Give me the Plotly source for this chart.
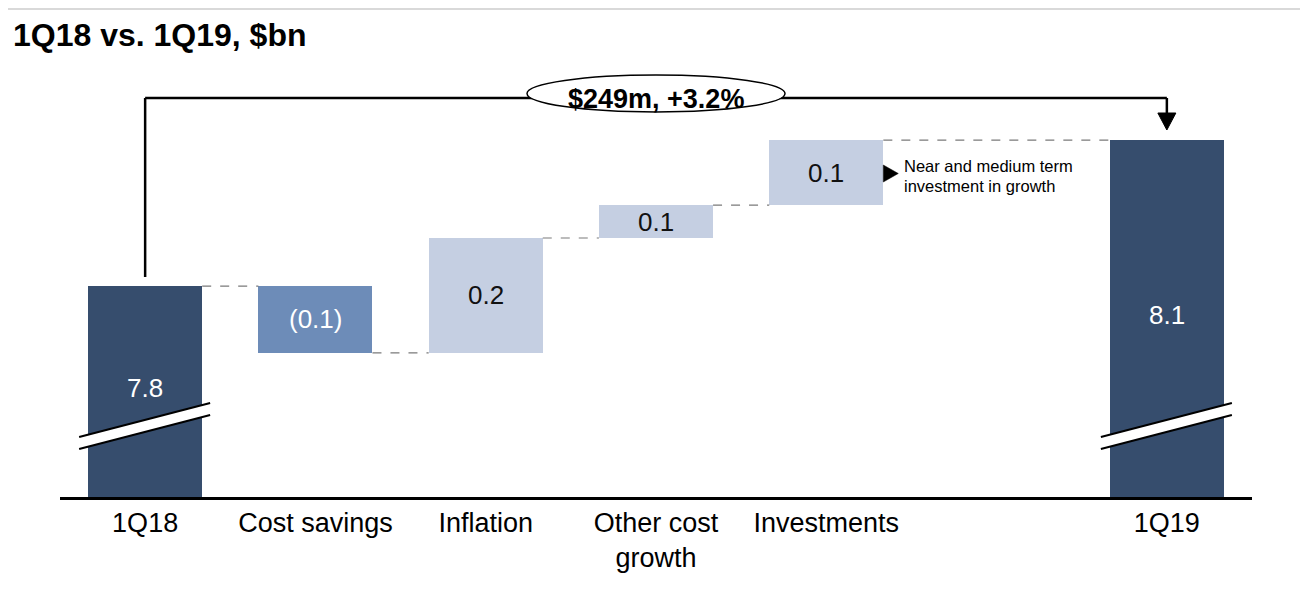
import plotly.graph_objects as go

# ---------------- data ----------------
categories = ["1Q18", "Cost savings", "Inflation", "Other cost<br>growth", "Investments", "1Q19"]
cat_pos = [0, 1, 2, 3, 4, 6]
start_value = 7.82
deltas = [-0.114, 0.196, 0.056, 0.111]
bar_labels = ["7.8", "(0.1)", "0.2", "0.1", "0.1", "8.1"]
change_label = "$249m, +3.2%"
note_lines = ["Near and medium term", "investment in growth"]

# ---------------- styling constants ----------------
OFF = 8                      # page body margin offset
W, H = 1308 - OFF, 606 - OFF
ML, MR, MT, MB = 60 - OFF, 56, 60 - OFF, 109
X_RANGE = [-0.5, 6.5]
Y_MIN = 7.46
PX_PER_BN = 586.0
PLOT_H = H - MT - MB
PLOT_W = W - ML - MR
Y_MAX = Y_MIN + PLOT_H / PX_PER_BN
PX_PER_X = PLOT_W / (X_RANGE[1] - X_RANGE[0])
BAR_W = 0.67

DARK = "#364d6d"
MID = "#6d8cb8"
LIGHT = "#c5cfe2"
FONT = "Liberation Sans, Arial, sans-serif"


def ypx(p):
    """page pixel row -> data y"""
    return Y_MIN + (H - MB - (p - OFF)) / PX_PER_BN


def dx(px):
    """pixel width -> data x width"""
    return px / PX_PER_X


# ---------------- derived waterfall geometry ----------------
end_value = start_value + sum(deltas)
levels = [start_value]
for d in deltas:
    levels.append(levels[-1] + d)

bases = [0] + levels[:-1] + [0]
heights = [start_value] + deltas + [end_value]
colors = [DARK] + [MID if d < 0 else LIGHT for d in deltas] + [DARK]
text_colors = ["white"] + ["white" if d < 0 else "#111111" for d in deltas] + ["white"]

fig = go.Figure()
fig.add_trace(go.Bar(
    x=cat_pos, y=heights, base=bases, width=BAR_W,
    marker=dict(color=colors, line=dict(width=0)),
    hoverinfo="skip", showlegend=False,
))

shapes = []
annotations = []

# bar labels (middle of visible bar)
for i, (xp, b, h) in enumerate(zip(cat_pos, bases, heights)):
    lo = max(min(b, b + h), Y_MIN)
    hi = max(b, b + h)
    annotations.append(dict(
        x=xp, y=(lo + hi) / 2, xref="x", yref="y", text=bar_labels[i],
        showarrow=False, yshift=4 if b == 0 else 0,
        font=dict(family=FONT, size=26, color=text_colors[i]),
    ))

# dashed connectors
for i in range(len(cat_pos) - 1):
    shapes.append(dict(
        type="line", xref="x", yref="y",
        x0=cat_pos[i] + BAR_W / 2, x1=cat_pos[i + 1] - BAR_W / 2,
        y0=levels[i], y1=levels[i],
        line=dict(color="#7a7a7a", width=1.2, dash="dash"),
    ))

# axis-break marks on the two total bars
for xp in (cat_pos[0], cat_pos[-1]):
    xl, xr = xp - dx(66), xp + dx(65)
    ul, ur, ll, lr = ypx(437), ypx(403), ypx(449), ypx(415)
    shapes.append(dict(
        type="path", xref="x", yref="y",
        path=f"M {xl},{ul} L {xr},{ur} L {xr},{lr} L {xl},{ll} Z",
        fillcolor="white", line=dict(width=0),
    ))
    for a, b in ((ul, ur), (ll, lr)):
        shapes.append(dict(
            type="line", xref="x", yref="y", x0=xl, x1=xr, y0=a, y1=b,
            line=dict(color="black", width=2),
        ))

# bracket arrow from 1Q18 to 1Q19
top_y = ypx(98)
shapes.append(dict(type="line", xref="x", yref="y", x0=cat_pos[0], x1=cat_pos[0],
                   y0=ypx(277), y1=top_y, line=dict(color="black", width=2.5)))
shapes.append(dict(type="line", xref="x", yref="y", x0=cat_pos[0], x1=cat_pos[-1],
                   y0=top_y, y1=top_y, line=dict(color="black", width=2.5)))
shapes.append(dict(type="line", xref="x", yref="y", x0=cat_pos[-1], x1=cat_pos[-1],
                   y0=top_y, y1=ypx(114), line=dict(color="black", width=2.5)))
xe = cat_pos[-1]
shapes.append(dict(
    type="path", xref="x", yref="y",
    path=f"M {xe - dx(9)},{ypx(113)} L {xe + dx(9)},{ypx(113)} L {xe},{ypx(130)} Z",
    fillcolor="black", line=dict(color="black", width=1),
))

# ellipse with total change
xc = (cat_pos[0] + cat_pos[-1]) / 2
shapes.append(dict(
    type="circle", xref="x", yref="y",
    x0=xc - dx(129), x1=xc + dx(129), y0=ypx(112), y1=ypx(75),
    fillcolor="white", line=dict(color="black", width=1.5),
))
annotations.append(dict(
    x=xc, y=ypx(99), xref="x", yref="y", text=f"<b>{change_label}</b>",
    showarrow=False, font=dict(family=FONT, size=27, color="black"),
))

# note next to Investments
xi = cat_pos[4]
shapes.append(dict(
    type="path", xref="x", yref="y",
    path=(f"M {xi + dx(57)},{ypx(165)} L {xi + dx(57)},{ypx(182)} "
          f"L {xi + dx(72)},{ypx(173.5)} Z"),
    fillcolor="black", line=dict(color="black", width=0.5),
))
for line_text, row in zip(note_lines, (166, 186)):
    annotations.append(dict(
        x=xi + dx(76), y=ypx(row), xref="x", yref="y", text=line_text,
        xanchor="left", yanchor="middle", align="left", showarrow=False,
        font=dict(family=FONT, size=16.5, color="black"),
    ))

# thin grey rule at the very top
shapes.append(dict(
    type="line", xref="paper", yref="paper",
    x0=-ML / PLOT_W, x1=(W - ML) / PLOT_W,
    y0=(H - MB - 1) / PLOT_H, y1=(H - MB - 1) / PLOT_H,
    line=dict(color="#d9d9d9", width=2),
))

fig.update_layout(
    width=W, height=H,
    margin=dict(l=ML, r=MR, t=MT, b=MB, autoexpand=False),
    paper_bgcolor="white", plot_bgcolor="white",
    title=dict(
        text="<b>1Q18 vs. 1Q19, $bn</b>",
        xref="container", yref="container",
        x=(13 - OFF) / W, xanchor="left", y=1 - (35 - OFF) / H, yanchor="middle",
        font=dict(family=FONT, size=32, color="black"),
    ),
    xaxis=dict(
        range=X_RANGE, tickvals=cat_pos, ticktext=categories,
        showgrid=False, zeroline=False, showline=True,
        linecolor="black", linewidth=2.5, ticks="",
        tickfont=dict(family=FONT, size=27, color="black"),
        fixedrange=True,
    ),
    yaxis=dict(
        range=[Y_MIN, Y_MAX], visible=False, showgrid=False, zeroline=False,
        fixedrange=True,
    ),
    bargap=0,
    shapes=shapes,
    annotations=annotations,
    showlegend=False,
)

fig.write_html("out.html")
